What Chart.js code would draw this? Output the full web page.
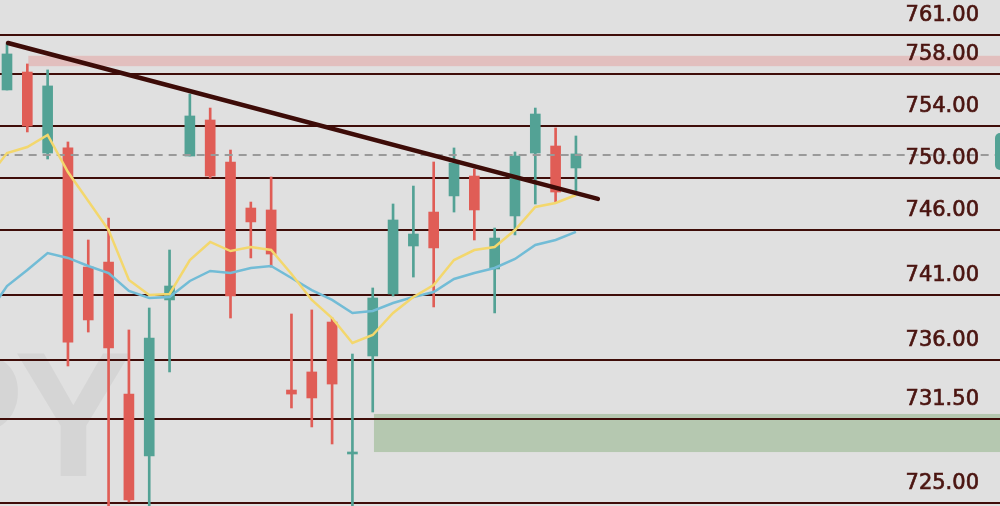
<!DOCTYPE html>
<html>
<head>
<meta charset="utf-8">
<script src="https://cdn.jsdelivr.net/npm/chart.js@4.4.1/dist/chart.umd.min.js"></script>
<style>
  html, body { margin: 0; padding: 0; background: #e0e0e0; }
  #wrap { width: 1000px; height: 506px; position: relative; }
</style>
</head>
<body>
<div id="wrap"><canvas id="chart"></canvas></div>
<script>
// candles, one per session (index 0..28)
var opens  = [756.77, 758.15, 751.92, 752.31, 743.15, 743.54, 733.38, 728.62, 740.62, 751.69, 754.46, 751.23, 747.69, 747.54, 733.69,
              735.08, 738.92, 728.77, 736.31, 741.08, 744.77, 747.38, 748.62, 750.15, 743.00, 747.08, 751.92, 752.46, 750.77];
var highs  = [760.31, 758.77, 758.31, 752.77, 745.23, 746.92, 738.31, 740.00, 744.46, 756.46, 755.38, 752.15, 748.15, 750.08, 739.54,
              739.85, 739.23, 736.46, 741.54, 748.00, 749.38, 751.23, 752.31, 750.69, 746.15, 752.00, 755.38, 753.85, 753.23];
var lows   = [756.77, 753.54, 751.46, 735.54, 738.15, 724.46, 725.08, 724.08, 735.08, 751.69, 750.00, 739.23, 743.85, 743.15, 732.31,
              730.85, 729.54, 723.69, 732.00, 740.92, 742.38, 740.08, 747.38, 745.23, 739.62, 745.62, 748.00, 748.15, 748.69];
var closes = [759.54, 754.00, 757.08, 737.38, 739.08, 736.92, 725.23, 737.69, 741.69, 754.77, 750.15, 740.92, 746.62, 744.15, 733.38,
              733.08, 734.15, 728.92, 740.77, 746.77, 745.69, 744.62, 751.15, 747.54, 745.38, 751.69, 754.92, 748.92, 751.85];

// moving averages, index -1..28
var maFast = [749.85, 751.92, 752.38, 753.31, 750.46, 748.23, 746.00, 742.15, 741.00, 741.08, 743.69, 745.08, 744.38, 744.69, 744.46,
              742.62, 740.62, 739.23, 737.31, 737.92, 739.62, 740.85, 741.77, 743.69, 744.46, 744.69, 746.00, 747.77, 748.08, 748.69];
var maSlow = [739.38, 741.69, 742.92, 744.23, 743.85, 743.23, 742.69, 741.31, 740.77, 740.85, 742.08, 742.85, 742.69, 743.08, 743.23,
              742.31, 741.38, 740.62, 739.62, 739.77, 740.38, 740.85, 741.23, 742.23, 742.69, 743.08, 743.77, 744.85, 745.23, 745.85];

var levels = [725, 731.5, 736, 741, 746, 750, 754, 758, 761];
var trendX = [0.05, 29.08];
var trendY = [760.38, 748.39];
var lastPrice = 751.77;
var resistBand = [758.6, 759.4];
var supportBand = [728.92, 731.85];
var resistStart = 1.05;
var supportStart = 18.06;

var UP = '#53a295', DOWN = '#e05d56';
var colors = opens.map(function(o, i) { return closes[i] >= o ? UP : DOWN; });

var backdrop = {
  id: 'backdrop',
  beforeDraw: function(chart) {
    var ctx = chart.ctx, x = chart.scales.x, y = chart.scales.y;
    ctx.save();
    ctx.fillStyle = '#e0e0e0';
    ctx.fillRect(0, 0, chart.width, chart.height);
    // watermark
    ctx.fillStyle = '#d5d5d5';
    ctx.font = 'bold 178px "Liberation Sans"';
    ctx.textBaseline = 'alphabetic';
    ctx.textAlign = 'right';
    ctx.fillText('SP', 24, 476);
    ctx.textAlign = 'left';
    ctx.fillText('Y', 14, 476);
    // zones
    ctx.fillStyle = '#e2bfbe';
    var t = y.getPixelForValue(resistBand[1]), b = y.getPixelForValue(resistBand[0]);
    ctx.fillRect(x.getPixelForValue(resistStart), t, chart.width, b - t);
    ctx.fillStyle = '#b5c8b0';
    t = y.getPixelForValue(supportBand[1]); b = y.getPixelForValue(supportBand[0]);
    ctx.fillRect(x.getPixelForValue(supportStart), t, chart.width, b - t);
    ctx.restore();
  },
  afterDraw: function(chart) {
    var ctx = chart.ctx, y = chart.scales.y;
    var py = y.getPixelForValue(lastPrice);
    ctx.save();
    ctx.fillStyle = UP;
    ctx.beginPath();
    ctx.roundRect(995, py - 22, 50, 37, 5);
    ctx.fill();
    // level labels, sitting above each line
    ctx.font = '21px "DejaVu Sans"';
    ctx.textAlign = 'right';
    ctx.textBaseline = 'middle';
    ctx.fillStyle = '#4b1511';
    ctx.strokeStyle = '#4b1511';
    ctx.lineWidth = 0.7;
    levels.forEach(function(v) {
      var ly = y.getPixelForValue(v) - 19;
      ctx.fillText(v.toFixed(2), 979, ly);
      ctx.strokeText(v.toFixed(2), 979, ly);
    });
    ctx.restore();
  }
};

var xs = opens.map(function(o, i) { return i; });

new Chart(document.getElementById('chart'), {
  type: 'bar',
  data: {
    datasets: [
      {
        type: 'line', order: 0,
        data: trendX.map(function(v, i) { return {x: v, y: trendY[i]}; }),
        borderColor: '#3d0c08', borderWidth: 4.5, pointRadius: 0, borderCapStyle: 'round'
      },
      {
        type: 'line', order: 1,
        data: maFast.map(function(v, i) { return {x: i - 1, y: v}; }),
        borderColor: '#f3d76d', borderWidth: 2.5, pointRadius: 0, tension: 0
      },
      {
        type: 'line', order: 2,
        data: maSlow.map(function(v, i) { return {x: i - 1, y: v}; }),
        borderColor: '#72bcd6', borderWidth: 2.5, pointRadius: 0, tension: 0
      },
      {
        type: 'line', order: 3,
        data: [{x: -1, y: lastPrice}, {x: 50, y: lastPrice}],
        borderColor: '#9a9a9a', borderWidth: 2, borderDash: [8, 6], pointRadius: 0
      },
      {
        order: 4, grouped: false, barThickness: 10,
        data: xs.map(function(i) { return {x: i, y: [opens[i], closes[i]]}; }),
        backgroundColor: colors, borderWidth: 0, minBarLength: 2
      },
      {
        order: 5, grouped: false, barThickness: 2,
        data: xs.map(function(i) { return {x: i, y: [lows[i], highs[i]]}; }),
        backgroundColor: colors, borderWidth: 0
      }
    ]
  },
  options: {
    responsive: true,
    maintainAspectRatio: false,
    animation: false,
    layout: { padding: 0 },
    plugins: { legend: { display: false }, tooltip: { enabled: false } },
    scales: {
      x: { type: 'linear', min: -0.344, max: 48.87, offset: false, display: false },
      y: {
        position: 'right',
        min: 724.77, max: 763.69,
        afterBuildTicks: function(axis) { axis.ticks = levels.map(function(v) { return {value: v}; }); },
        afterFit: function(axis) {
          axis.width = 0;
          axis.paddingTop = 0; axis.paddingBottom = 0;
          axis.paddingLeft = 0; axis.paddingRight = 0;
        },
        border: { display: false },
        grid: { color: '#3f0d09', lineWidth: 2, drawTicks: false },
        ticks: { display: false }
      }
    }
  },
  plugins: [backdrop]
});
</script>
</body>
</html>
